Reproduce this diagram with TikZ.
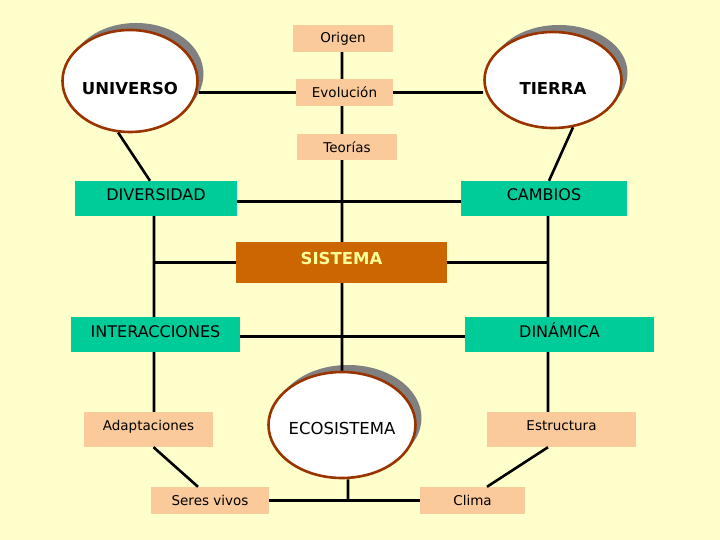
\documentclass[tikz,border=0pt]{standalone}
\usepackage{fontspec}
\setmainfont{DejaVu Sans}
\usetikzlibrary{positioning, shapes.geometric, shadows}
\definecolor{fondo}{HTML}{FFFFCC}
\definecolor{salmon}{HTML}{FBCA9B}
\definecolor{verde}{HTML}{00CC99}
\definecolor{naranja}{HTML}{CC6600}
\definecolor{marron}{HTML}{993300}
\definecolor{amarillo}{HTML}{FFFF99}

\begin{document}
\begin{tikzpicture}[x=1pt, y=-1pt,
    peach/.style={fill=salmon, inner sep=0pt, minimum width=#1,
        font=\fontsize{13.5}{16}\selectfont},
    green/.style={fill=verde, inner sep=0pt, minimum width=#1, minimum height=35pt,
        text height=12pt, text depth=7pt, font=\fontsize{16}{19}\selectfont},
    globe/.style={ellipse, draw=marron, line width=2.6pt, fill=white, inner sep=0pt,
        general shadow={fill=gray, shadow xshift=6pt, shadow yshift=7pt}},
    globetext/.style={font=\fontsize{16.5}{19}\selectfont},
    conn/.style={line width=2.6pt}]
    \fill[fondo] (0,0) rectangle (720,540);
    \useasboundingbox (0,0) rectangle (720,540);

    \node[globe, minimum width=135pt, minimum height=102pt,
        label={[name=univ-t, globetext, yshift=-7pt, font=\fontsize{16.5}{19}\bfseries]center:UNIVERSO}]
        (univ) at (130,81) {};
    \node[globe, minimum width=137pt, minimum height=96pt,
        label={[name=tier-t, globetext, yshift=-8pt, font=\fontsize{16.5}{19}\bfseries]center:TIERRA}]
        (tier) at (553,80) {};
    \node[globe, minimum width=147pt, minimum height=106pt,
        label={[name=eco-t, globetext, yshift=-3pt]center:ECOSISTEMA}]
        (eco) at (342,425) {};

    \node[peach=100pt, minimum height=27pt] (orig) at (343,38.5) {Origen};
    \node[peach=97pt, minimum height=27pt] (evol) at (344.5,92.5) {Evolución};
    \node[peach=100pt, minimum height=26pt] (teor) at (347,147) {Teorías};
    \node[peach=129pt, minimum height=35pt, text height=11pt, text depth=10pt] (adap) at (148.5,429.5) {Adaptaciones};
    \node[peach=149pt, minimum height=35pt, text height=11pt, text depth=10pt] (estr) at (561.5,429.5) {Estructura};
    \node[peach=118pt, minimum height=27pt] (seres) at (210,500.5) {Seres vivos};
    \node[peach=105pt, minimum height=27pt] (clima) at (472.5,500.5) {Clima};

    \node[green=162pt] (div) at (156,198.5) {DIVERSIDAD};
    \node[green=166pt] (camb) at (544,198.5) {CAMBIOS};
    \node[green=169pt] (inter) at (155.5,334.5) {INTERACCIONES};
    \node[green=189pt] (dina) at (559.5,334.5) {DINÁMICA};

    \node[fill=naranja, text=amarillo, minimum width=211pt, minimum height=41pt,
        inner sep=0pt, text height=12pt, text depth=8pt, font=\fontsize{16.5}{19}\bfseries]
        (sist) at (341.5,262.5) {SISTEMA};

    % columnas de las lineas
    \coordinate (lcol) at (154,0);
    \coordinate (ccol) at (342,0);
    \coordinate (rcol) at (548,0);

    \draw[conn]
    (orig.south -| ccol)--(evol.north -| ccol)
    (evol.south -| ccol)--(teor.north -| ccol)
    (teor.south -| ccol)--(sist.north -| ccol)
    (sist.south -| ccol)--(eco.north -| ccol)
    (evol.west)--(evol.west -| univ.east)
    (evol.east)--(evol.east -| tier.west)
    (univ.-103)--([xshift=-6pt]div.north)
    (tier.-67)--([xshift=5pt]camb.north)
    ([yshift=-3pt]div.east)--([yshift=-3pt]camb.west)
    (div.south -| lcol)--(inter.north -| lcol)
    (camb.south -| rcol)--(dina.north -| rcol)
    (sist.west)--(sist.west -| lcol)
    (sist.east)--(sist.east -| rcol)
    ([yshift=-2pt]inter.east)--([yshift=-2pt]dina.west)
    (inter.south -| lcol)--(adap.north -| lcol)
    (dina.south -| rcol)--(estr.north -| rcol)
    ([xshift=5pt]adap.south)--([xshift=-12pt]seres.north)
    ([xshift=-13.5pt]estr.south)--([xshift=14.5pt]clima.north)
    (seres.east)--(clima.west)
    ([xshift=6pt]eco.south)--([xshift=6pt]eco.south |- seres.east);
\end{tikzpicture}
\end{document}
